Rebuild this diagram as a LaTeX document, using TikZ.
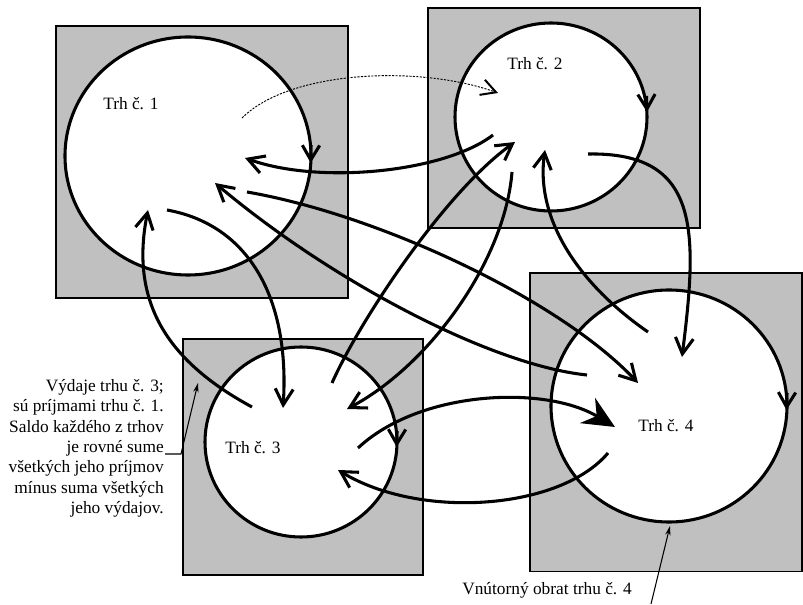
\documentclass[tikz,border=0pt]{standalone}
\usepackage{fontspec}
\setmainfont{Liberation Serif}
\usetikzlibrary{arrows.meta,shapes.geometric}
\definecolor{boxgray}{RGB}{192,192,192}
\begin{document}
\begin{tikzpicture}[x=0.75pt,y=-0.75pt,
  boxst/.style={draw=black, line width=1pt, fill=boxgray, anchor=north west, inner sep=0pt, outer sep=0pt},
  circ/.style={ellipse, draw=black, line width=2.3pt, fill=white, inner sep=0pt, outer sep=0pt},
  lbl/.style={font=\fontsize{13}{15.3}\selectfont, inner sep=0pt, anchor=base west},
  flow/.style={line width=2.3pt, -{Straight Barb[length=12pt,width=13.5pt]}},
  bigflow/.style={line width=2.3pt, -{Stealth[length=24pt,width=22pt,inset=8pt]}},
  loopst/.style={line width=2.3pt, -{Straight Barb[length=11pt,width=13pt]}},
  dotflow/.style={line width=0.7pt, dash pattern=on 1.6pt off 1pt, -{Straight Barb[length=11pt,width=12pt,line width=1.5pt]}},
  leader/.style={line width=0.8pt, -{Stealth[length=7pt,width=4pt]}}
]
\useasboundingbox (0,0) rectangle (803,605);
\fill[white] (0,0) rectangle (803,605);

% boxes
\node[boxst, minimum width=219pt, minimum height=204pt] (b1) at (56,26) {};
\node[boxst, minimum width=204pt, minimum height=165pt] (b2) at (428,8) {};
\node[boxst, minimum width=180pt, minimum height=177pt] (b3) at (183,339) {};
\node[boxst, minimum width=204pt, minimum height=224pt] (b4) at (530,273) {};

% markets
\node[circ, minimum width=184.5pt, minimum height=178.5pt] (m1) at (188,156) {};
\node[circ, minimum width=144pt, minimum height=141pt] (m2) at (551,117) {};
\node[circ, minimum width=144pt, minimum height=142.5pt] (m3) at (301,442) {};
\node[circ, minimum width=177pt, minimum height=174pt] (m4) at (669,406) {};

\node[lbl] (t1) at (103,110) {Trh č. 1};
\node[lbl] (t2) at (507,70) {Trh č. 2};
\node[lbl] (t3) at (225,454) {Trh č. 3};
\node[lbl] (t4) at (638,432) {Trh č. 4};

\node[font=\fontsize{13}{15.3}\selectfont, align=right, anchor=north east, inner sep=0pt] (t5) at (164,379)
  {Výdaje trhu č. 3;\\ sú príjmami trhu č. 1.\\ Saldo každého z trhov\\ je rovné sume\\ všetkých jeho príjmov\\ mínus suma všetkých\\ jeho výdajov.};
\node[font=\fontsize{13}{15.3}\selectfont, anchor=base east, inner sep=0pt] (t6) at (632,594) {Vnútorný obrat trhu č. 4};

% endpoints
\coordinate (s21) at (493,135); \coordinate (e21) at (245,158);
\coordinate (s14) at (247,192); \coordinate (e14) at (638,383);
\coordinate (s41) at (587,375); \coordinate (e41) at (215,183);
\coordinate (s32) at (332,383); \coordinate (e32) at (515,142);
\coordinate (s23) at (512,172); \coordinate (e23) at (347,409);
\coordinate (s42) at (648,332); \coordinate (e42) at (545,150);
\coordinate (s24) at (588,154); \coordinate (e24) at (682,357);
\coordinate (s13) at (167,210); \coordinate (e13) at (283,408);
\coordinate (s31) at (252,407); \coordinate (e31) at (148,210);
\coordinate (s34) at (358,448); \coordinate (e34) at (615,427);
\coordinate (s43) at (608,453); \coordinate (e43) at (338,470);
\coordinate (sd) at (242,118); \coordinate (ed) at (498,93);

% flows between markets
\draw[flow] (s21) .. controls (445,172) and (320,185) .. (e21);
\draw[flow] (s14) .. controls (380,215) and (560,300) .. (e14);
\draw[flow] (s41) .. controls (490,365) and (330,280) .. (e41);
\draw[flow] (s32) .. controls (360,320) and (445,192) .. (e32);
\draw[flow] (s23) .. controls (505,260) and (430,365) .. (e23);
\draw[flow] (s42) .. controls (580,285) and (535,220) .. (e42);
\draw[flow] (s24) .. controls (700,152) and (698,230) .. (e24);
\draw[flow] (s13) .. controls (250,225) and (290,300) .. (e13);
\draw[flow] (s31) .. controls (165,360) and (130,300) .. (e31);
\draw[bigflow] (s34) .. controls (420,390) and (545,385) .. (e34);
\draw[flow] (s43) .. controls (560,510) and (420,520) .. (e43);
\draw[dotflow] (sd) .. controls (290,70) and (420,65) .. (ed);

% internal turnover arrowheads on the circles
\coordinate (l1a) at (311,145); \coordinate (l1b) at (310.7,163);
\coordinate (l2a) at (646.5,96); \coordinate (l2b) at (647,112);
\coordinate (l3a) at (397,431); \coordinate (l3b) at (396.7,447);
\coordinate (l4a) at (787,393); \coordinate (l4b) at (786.5,410);
\draw[loopst] (l1a) -- (l1b);
\draw[loopst] (l2a) -- (l2b);
\draw[loopst] (l3a) -- (l3b);
\draw[loopst] (l4a) -- (l4b);

% leaders
\coordinate (la) at (165,454); \coordinate (lb) at (181,454); \coordinate (lc) at (198,383);
\draw[leader] (la) -- (lb) -- (lc);
\coordinate (ld) at (651,604); \coordinate (le) at (670,526);
\draw[leader] (ld) -- (le);
\end{tikzpicture}
\end{document}
